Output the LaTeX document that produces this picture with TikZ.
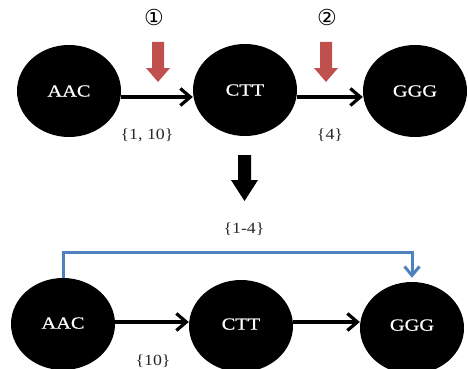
\documentclass[tikz,border=0pt]{standalone}
\usepackage{fontspec}
\setmainfont{Liberation Serif}
\newfontfamily\nodefont[FakeStretch=1.2,FakeBold=0.6]{Liberation Serif}
\newfontfamily\setfont[FakeStretch=1.15]{Liberation Serif}
\newfontfamily\symfont{DejaVu Sans}
\usetikzlibrary{shapes.geometric,arrows.meta}
\definecolor{cutred}{RGB}{192,80,77}
\definecolor{mergeblue}{RGB}{79,129,189}
\definecolor{settext}{RGB}{40,40,40}
\tikzset{
  kmer/.style={ellipse, fill=black, minimum width=104pt, minimum height=92pt,
    inner sep=0pt, text=white, font=\nodefont\fontsize{17}{17}\selectfont},
  edge/.style={line width=3.2pt, -{Straight Barb[length=10pt,width=17pt,line width=3.2pt]}},
  setlabel/.style={text=settext, font=\setfont\fontsize{15.5}{15.5}\selectfont, inner sep=0pt},
  marker/.style={font=\symfont\fontsize{22}{22}\selectfont, inner sep=0pt},
  merge/.style={mergeblue, line width=3pt, -{Straight Barb[length=9pt,width=15pt,line width=3pt]}}
}
\begin{document}
\begin{tikzpicture}[x=1pt,y=-1pt]
\useasboundingbox (0,0) rectangle (468,369);

% upper graph
\node[kmer] (a1) at (69,91) {\raisebox{-5pt}{AAC}};
\node[kmer] (c1) at (245,90) {\raisebox{-5pt}{CTT}};
\node[kmer] (g1) at (415,91) {\raisebox{-5pt}{GGG}};
\draw[edge] (a1.east |- 0,97) -- (c1.west |- 0,97);
\draw[edge] (c1.east |- 0,97) -- (g1.west |- 0,97);
\node[setlabel] (s1) at (147,135) {\{1, 10\}};
\node[setlabel] (s2) at (330,135) {\{4\}};

% cut positions
\node[marker] (m1) at (154,17) {①};
\node[marker] (m2) at (327,17) {②};
\fill[cutred] (152,42) -- (164,42) -- (164,68) -- (170,68) -- (158,82)
  -- (146,68) -- (152,68) -- cycle;
\fill[cutred] (320,42) -- (332,42) -- (332,68) -- (338,68) -- (326,82)
  -- (314,68) -- (320,68) -- cycle;

% transformation arrow
\fill[black] (238,155) -- (251,155) -- (251,180) -- (258,180) -- (244.5,201)
  -- (231,180) -- (238,180) -- cycle;
\node[setlabel] (s3) at (244,229) {\{1-4\}};

% lower graph
\node[kmer] (a2) at (63,324) {\raisebox{2pt}{AAC}};
\node[kmer] (c2) at (241,326) {\raisebox{4pt}{CTT}};
\node[kmer] (g2) at (412,328) {\raisebox{6pt}{GGG}};
\draw[edge] (a2.east |- 0,322) -- (c2.west |- 0,322);
\draw[edge] (c2.east |- 0,322) -- (g2.west |- 0,322);
\node[setlabel] (s4) at (153,361) {\{10\}};
\draw[merge] (a2.north) -- (a2.north |- 0,252) -| ([yshift=4pt]g2.north);
\end{tikzpicture}
\end{document}
